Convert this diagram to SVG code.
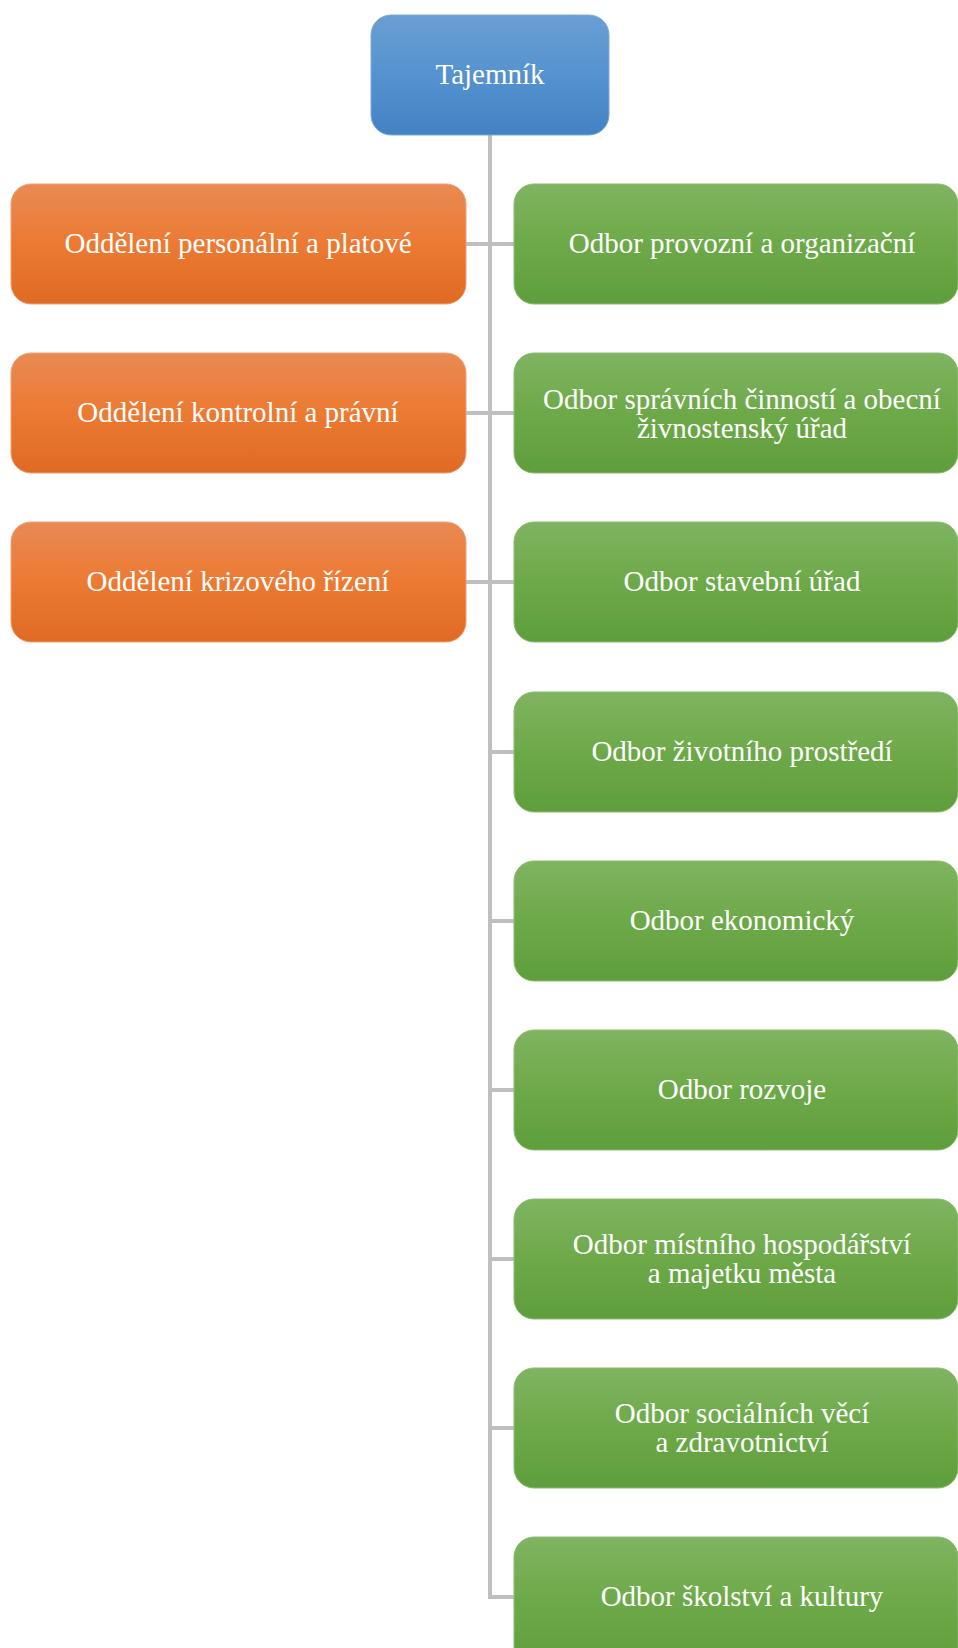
<svg xmlns="http://www.w3.org/2000/svg" width="958" height="1648" viewBox="0 0 958 1648">
<defs>
<linearGradient id="gB" x1="0" y1="0" x2="0" y2="1"><stop offset="0" stop-color="#6b9fd4"/><stop offset="0.5" stop-color="#5592cf"/><stop offset="1" stop-color="#4382c3"/></linearGradient>
<linearGradient id="gO" x1="0" y1="0" x2="0" y2="1"><stop offset="0" stop-color="#e98a54"/><stop offset="0.5" stop-color="#ec7a32"/><stop offset="1" stop-color="#df6a24"/></linearGradient>
<linearGradient id="gG" x1="0" y1="0" x2="0" y2="1"><stop offset="0" stop-color="#7fb462"/><stop offset="0.5" stop-color="#6da948"/><stop offset="1" stop-color="#5f9e3c"/></linearGradient>
</defs>
<style>
.b{fill:url(#gB);stroke:#7eaad8;stroke-width:1}
.o{fill:url(#gO);stroke:#eda27a;stroke-width:1}
.g{fill:url(#gG);stroke:#8dbb72;stroke-width:1}
.t{font-family:"Liberation Serif","Times New Roman",serif;font-size:29px;fill:#ffffff;text-anchor:middle}
.c{stroke:#bfbfbf;stroke-width:4;fill:none}
</style>
<rect width="958" height="1648" fill="#ffffff"/>
<g id="connectors">
<path class="c" d="M490 135 V1597 H514"/>
<path class="c" d="M466 244 H514 M466 413 H514 M466 582 H514 M490 752 H514 M490 921 H514 M490 1090 H514 M490 1259 H514 M490 1428 H514"/>
</g>
<g id="n0"><rect class="b" x="371" y="15" width="238" height="120" rx="20"/><text class="t" x="490" y="84">Tajemník</text></g>
<g id="l1"><rect class="o" x="11" y="184" width="455" height="120" rx="20"/><text class="t" x="238" y="253">Oddělení personální a platové</text></g>
<g id="l2"><rect class="o" x="11" y="353" width="455" height="120" rx="20"/><text class="t" x="238" y="422">Oddělení kontrolní a právní</text></g>
<g id="l3"><rect class="o" x="11" y="522" width="455" height="120" rx="20"/><text class="t" x="238" y="591">Oddělení krizového řízení</text></g>
<g id="r1"><rect class="g" x="514" y="184" width="444" height="120" rx="20"/><text class="t" x="742" y="253">Odbor provozní a organizační</text></g>
<g id="r2"><rect class="g" x="514" y="353" width="444" height="120" rx="20"/><text class="t" x="742" y="409">Odbor správních činností a obecní</text><text class="t" x="742" y="438">živnostenský úřad</text></g>
<g id="r3"><rect class="g" x="514" y="522" width="444" height="120" rx="20"/><text class="t" x="742" y="591">Odbor stavební úřad</text></g>
<g id="r4"><rect class="g" x="514" y="692" width="444" height="120" rx="20"/><text class="t" x="742" y="761">Odbor životního prostředí</text></g>
<g id="r5"><rect class="g" x="514" y="861" width="444" height="120" rx="20"/><text class="t" x="742" y="930">Odbor ekonomický</text></g>
<g id="r6"><rect class="g" x="514" y="1030" width="444" height="120" rx="20"/><text class="t" x="742" y="1099">Odbor rozvoje</text></g>
<g id="r7"><rect class="g" x="514" y="1199" width="444" height="120" rx="20"/><text class="t" x="742" y="1254">Odbor místního hospodářství</text><text class="t" x="742" y="1283">a majetku města</text></g>
<g id="r8"><rect class="g" x="514" y="1368" width="444" height="120" rx="20"/><text class="t" x="742" y="1423">Odbor sociálních věcí</text><text class="t" x="742" y="1452">a zdravotnictví</text></g>
<g id="r9"><rect class="g" x="514" y="1537" width="444" height="130" rx="20"/><text class="t" x="742" y="1606">Odbor školství a kultury</text></g>
</svg>
